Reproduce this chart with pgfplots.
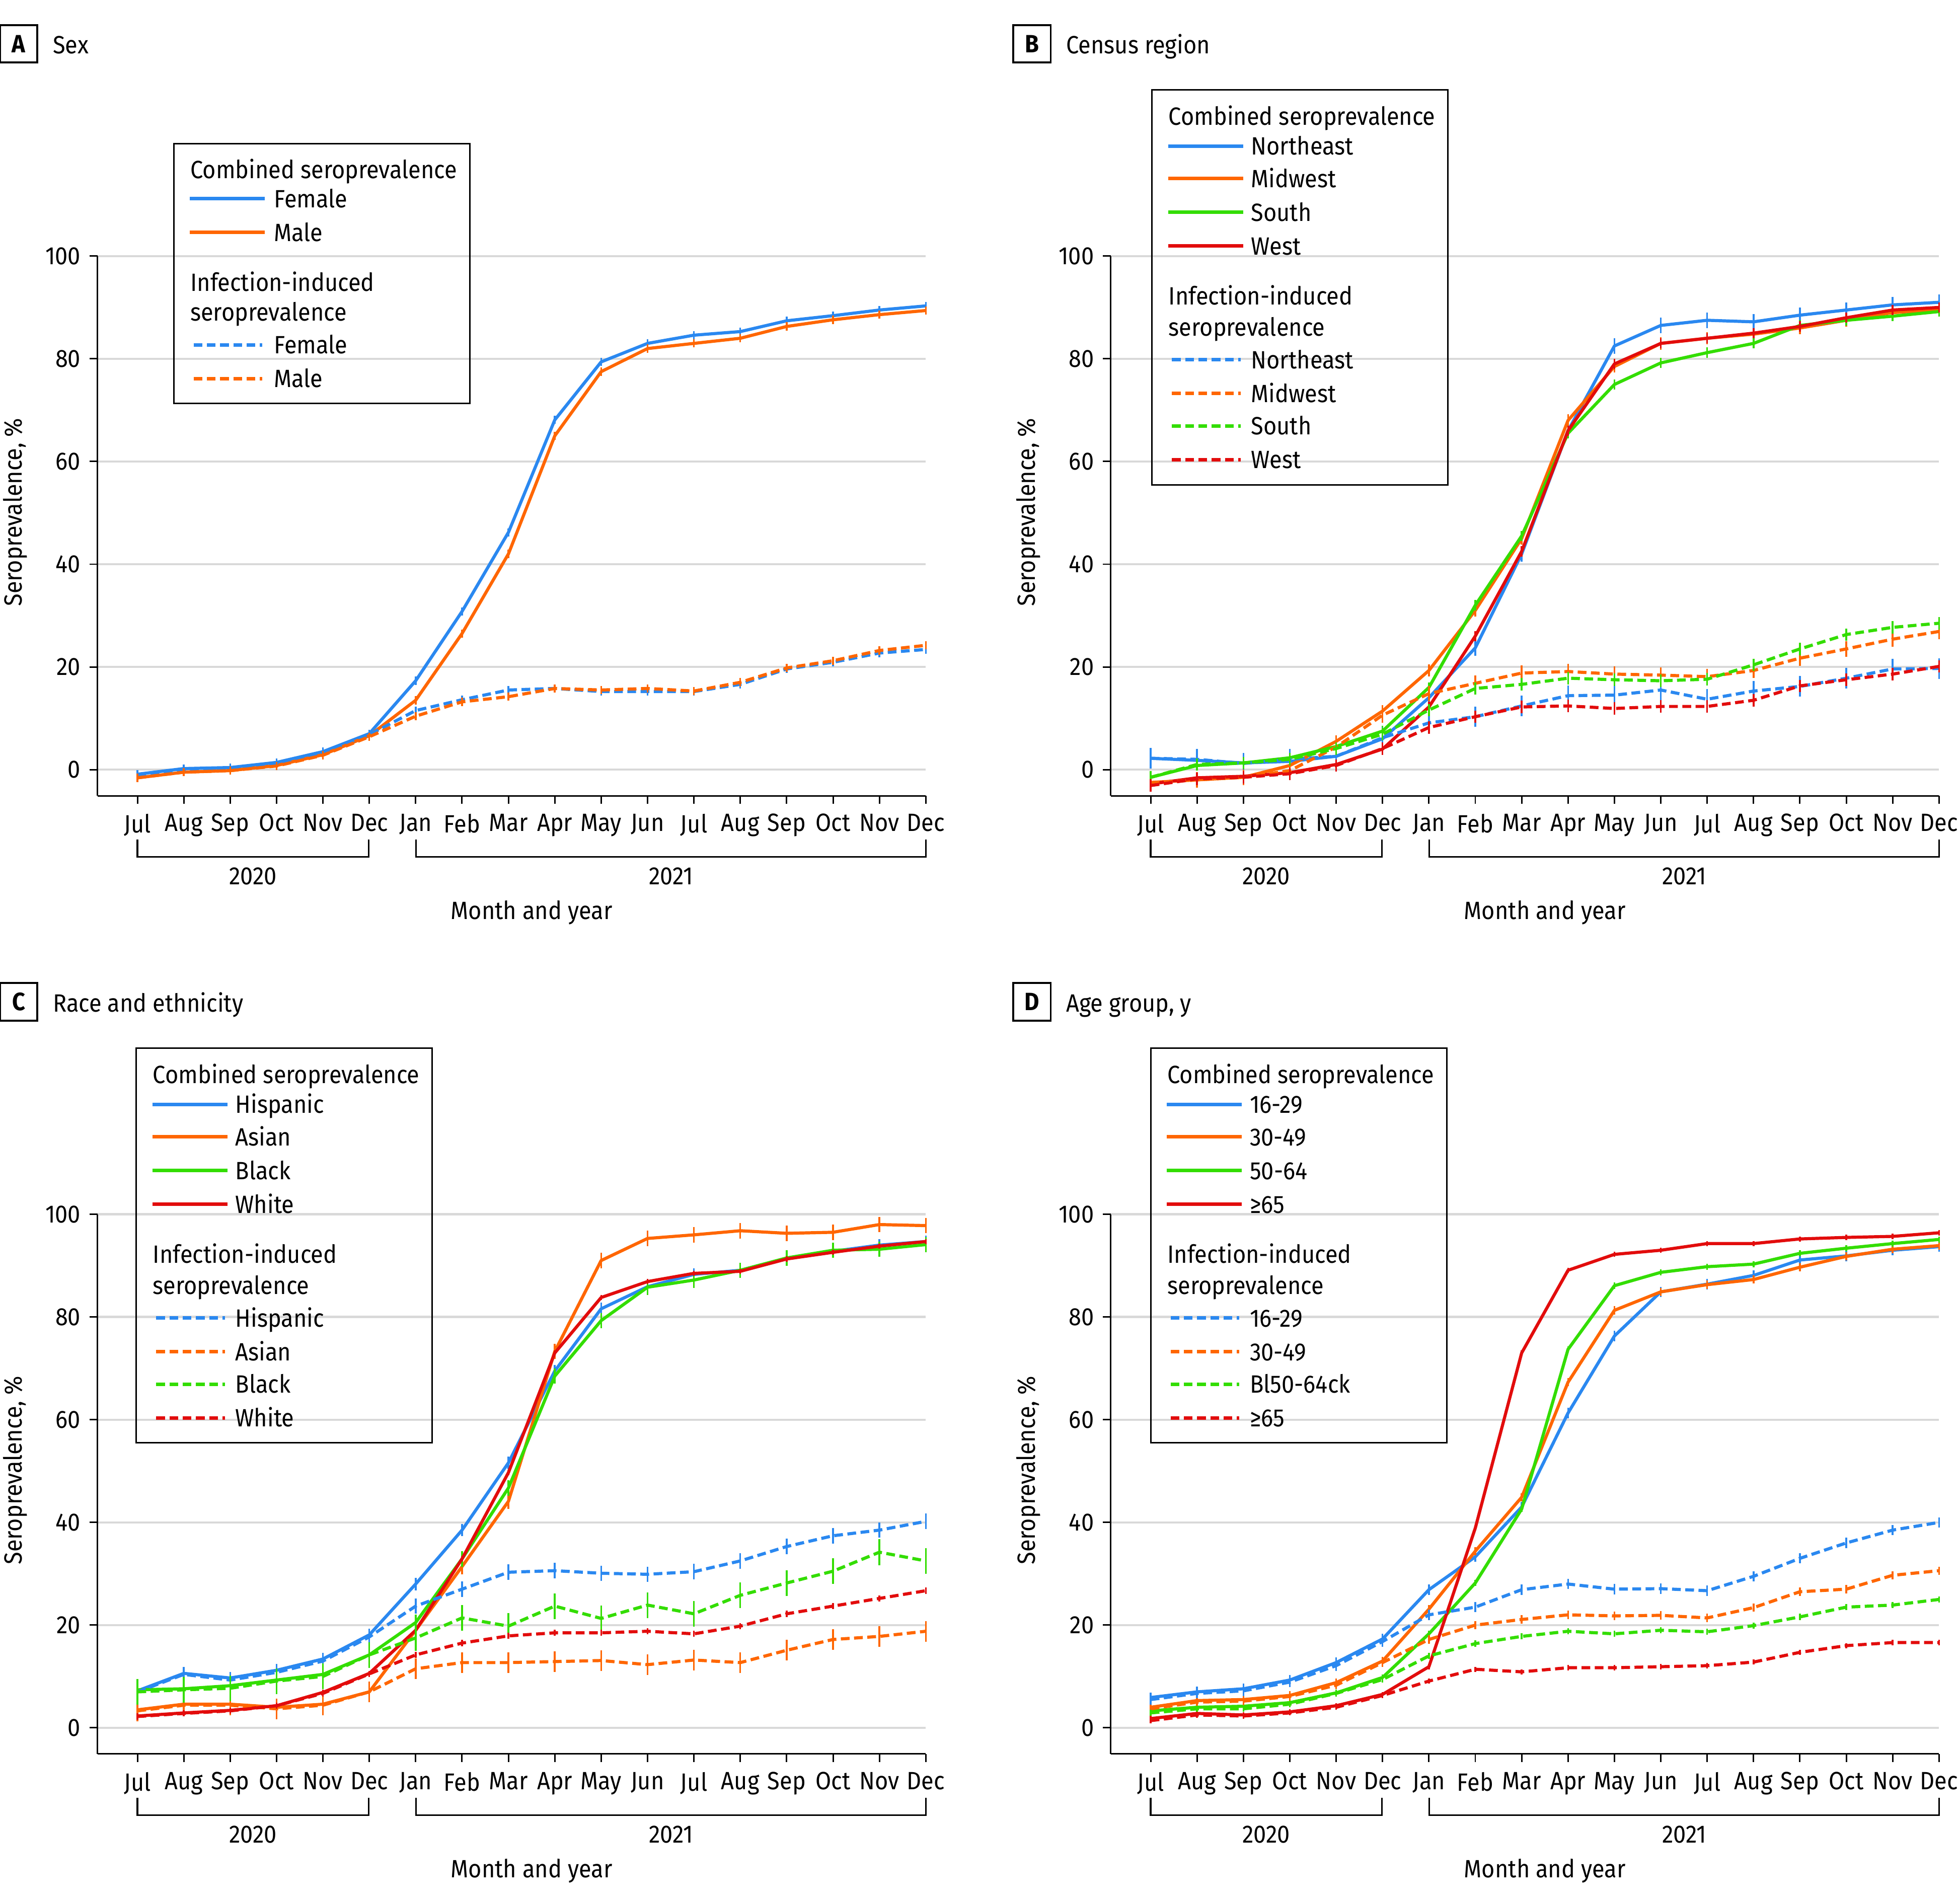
\documentclass[border=0pt]{standalone}
\usepackage{fontspec}
\setmainfont{Fira Sans}[FakeStretch=0.91]
\usepackage{pgfplots}
\pgfplotsset{compat=1.18}
\usepackage{pgfplotstable}

\definecolor{cblue}{RGB}{42,136,240}
\definecolor{corange}{RGB}{255,102,0}
\definecolor{cgreen}{RGB}{51,221,0}
\definecolor{cred}{RGB}{226,12,12}
\definecolor{gridgray}{RGB}{217,217,217}

% month index 0 = Jul 2020 ... 17 = Dec 2021
\pgfplotstableread{
m  cf    cm    if    im
0  -0.9  -1.6  -1.1  -1.6
1  0.2   -0.5  -0.2  -0.5
2  0.4   -0.2  0.3   -0.2
3  1.4   0.8   1.2   0.7
4  3.5   2.9   3.4   2.8
5  7.0   6.6   6.8   6.4
6  17.3  13.5  11.5  10.4
7  30.8  26.5  13.6  13.2
8  46.2  42.0  15.5  14.2
9  68.1  65.0  15.8  15.8
10 79.4  77.5  15.2  15.5
11 83.0  82.0  15.2  15.8
12 84.6  83.0  15.2  15.3
13 85.3  84.0  16.6  17.0
14 87.4  86.3  19.6  19.8
15 88.4  87.6  20.9  21.2
16 89.5  88.6  22.7  23.2
17 90.3  89.4  23.4  24.2
}\tabA

\pgfplotstableread{
m  c1    c2    c3    c4    i1    i2    i3    i4
0  2.2   -2.5  -1.5  -2.8  2.2   -2.6  -1.5  -3.1
1  1.8   -2.0  0.8   -1.6  2.0   -2.0  1.0   -1.8
2  1.3   -1.5  1.3   -1.3  1.2   -1.5  1.3   -1.5
3  1.6   0.8   2.3   -0.6  2.0   -0.2  2.0   -0.8
4  2.6   5.5   4.5   1.0   2.6   4.4   4.1   0.8
5  6.0   11.4  7.5   4.0   6.2   10.6  6.9   4.1
6  14.0  19.3  16.0  12.2  9.1   14.8  11.6  8.2
7  23.7  31.0  32.0  26.0  10.3  16.8  15.8  10.3
8  42.0  45.0  45.5  42.5  12.4  18.8  16.6  12.2
9  66.0  68.0  65.5  66.0  14.4  19.1  17.8  12.4
10 82.5  78.5  75.0  79.0  14.5  18.6  17.5  11.9
11 86.5  83.0  79.2  83.0  15.5  18.4  17.3  12.3
12 87.5  84.0  81.2  84.0  13.7  18.1  17.6  12.3
13 87.2  84.8  83.0  85.0  15.3  19.3  20.4  13.5
14 88.5  86.0  86.5  86.3  16.2  21.7  23.5  16.3
15 89.5  87.5  87.5  88.0  17.8  23.5  26.3  17.5
16 90.5  89.0  88.3  89.5  19.6  25.4  27.7  18.6
17 91.0  89.5  89.2  90.0  19.7  26.9  28.5  20.1
}\tabB

\pgfplotstableread{
m  c1    c2    c3    c4    i1    i2    i3    i4
0  7.2   3.5   7.4   2.3   7.0   3.3   7.0   2.2
1  10.6  4.6   7.6   2.9   10.4  4.4   7.4   2.8
2  9.7   4.6   8.2   3.4   9.3   4.4   7.7   3.3
3  11.2  4.0   9.3   4.3   10.8  3.7   9.1   4.3
4  13.4  4.6   10.4  6.9   13.0  4.4   10.0  6.7
5  18.1  7.0   14.2  10.6  17.7  7.0   14.2  10.5
6  28.0  19.0  20.5  19.0  23.7  11.5  17.5  14.2
7  38.5  31.4  32.9  32.9  27.0  12.7  21.4  16.5
8  51.6  44.1  46.7  49.7  30.3  12.7  19.8  17.9
9  69.5  73.3  68.5  73.0  30.6  12.9  23.7  18.5
10 81.6  91.0  79.3  83.8  30.1  13.1  21.3  18.5
11 85.9  95.3  85.8  86.9  29.9  12.3  23.9  18.8
12 88.3  96.0  87.2  88.5  30.4  13.2  22.2  18.3
13 89.1  96.8  89.1  88.9  32.5  12.7  25.8  19.8
14 91.4  96.3  91.5  91.3  35.3  15.1  28.2  22.2
15 92.8  96.5  93.0  92.6  37.4  17.2  30.5  23.7
16 94.0  98.0  93.2  93.8  38.5  17.8  34.2  25.2
17 94.7  97.8  94.1  94.7  40.2  18.8  32.5  26.7
}\tabC

\pgfplotstableread{
m  c1    c2    c3    c4    i1    i2    i3    i4
0  5.9   4.0   3.3   1.8   5.5   3.7   2.9   1.4
1  7.0   5.3   4.0   2.8   6.7   5.0   3.7   2.5
2  7.6   5.5   4.2   2.5   7.2   5.2   3.7   2.3
3  9.3   6.3   4.9   3.1   8.9   6.1   4.6   2.9
4  12.7  8.8   6.8   4.3   12.1  8.3   6.7   4.0
5  17.3  13.0  9.8   6.5   16.8  12.7  9.4   6.3
6  26.9  23.1  18.3  11.9  22.0  17.2  14.0  9.1
7  33.3  34.4  28.2  38.9  23.5  20.0  16.4  11.4
8  43.0  44.9  42.6  73.0  26.9  21.1  17.8  10.9
9  61.3  67.3  73.7  89.1  28.0  22.0  18.8  11.7
10 76.3  81.3  86.1  92.2  27.0  21.8  18.3  11.7
11 84.9  84.9  88.7  93.0  27.1  21.9  19.0  11.9
12 86.4  86.3  89.8  94.3  26.7  21.4  18.7  12.1
13 88.1  87.3  90.3  94.3  29.5  23.4  19.9  12.8
14 91.1  89.7  92.4  95.2  33.0  26.5  21.6  14.7
15 91.9  91.8  93.4  95.5  36.0  27.0  23.5  16.0
16 93.0  93.2  94.3  95.7  38.5  29.7  23.9  16.6
17 93.7  93.9  95.1  96.4  40.0  30.6  25.0  16.6
}\tabD

\pgfplotsset{
  panel/.style={
    scale only axis, width=331.5pt, height=216pt,
    xmin=-0.862, xmax=17, ymin=-5.1, ymax=100,
    axis x line*=bottom, axis y line*=left,
    axis line style={-, line width=0.6pt},
    xtick={0,...,17},
    xticklabels={Jul,Aug,Sep,Oct,Nov,Dec,Jan,Feb,Mar,Apr,May,Jun,Jul,Aug,Sep,Oct,Nov,Dec},
    ytick={0,20,...,100},
    ymajorgrids, grid style={gridgray, line width=0.9pt},
    tick align=outside, major tick length=3.2pt,
    tick style={black, line width=0.6pt},
    tick label style={font=\fontsize{10}{12}\selectfont},
    xticklabel style={yshift=-0.5pt},
    /pgf/number format/assume math mode=true,
    clip=false,
  },
  ser/.style 2 args={color=#1, line width=1.25pt, mark=none, line join=round,
    error bars/y dir=both, error bars/y fixed=#2, error bars/error mark=none,
    error bars/error bar style={solid, line width=0.7pt}},
  dsh/.style={dash pattern=on 3.5pt off 1.8pt},
}

\tikzset{
  tx/.style={inner sep=0pt, font=\fontsize{10}{12}\selectfont},
  lt/.style={tx, anchor=base west},
  ln/.style={line width=1.4pt},
  dl/.style={line width=1.4pt, dash pattern=on 3.5pt off 1.8pt},
}

% axis decorations, in pixel units of the reference
\newcommand\decor[4]{%
  \begin{scope}[shift={(#1,#2)}]
    \draw[line width=0.8pt] (0,20) rectangle (30,50);
    \node[tx, font=\fontsize{10}{12}\selectfont\bfseries] at (15,35) {#3};
    \node[lt] at (42,43) {#4};
    \draw[line width=0.7pt] (110,672)--(110,686)--(295,686)--(295,672);
    \draw[line width=0.7pt] (333,672)--(333,686)--(741,686)--(741,672);
    \node[tx, anchor=base] at (202.5,708) {2020};
    \node[tx, anchor=base] at (537,708) {2021};
    \node[tx, anchor=base] at (425.5,736) {Month and year};
    \node[tx, rotate=90] at (12,410) {Seroprevalence, \%};
  \end{scope}}

\newcommand\legfour[9]{%
  \begin{scope}[shift={(#1,#2)}]
    \draw[line width=0.6pt] (0,0) rectangle (237,316);
    \node[lt] at (13,28) {Combined seroprevalence};
    \draw[ln, cblue] (13,45)--(73,45);   \node[lt] at (79,52) {#3};
    \draw[ln, corange] (13,71)--(73,71); \node[lt] at (79,78) {#4};
    \draw[ln, cgreen] (13,98)--(73,98);  \node[lt] at (79,105) {#5};
    \draw[ln, cred] (13,125)--(73,125);  \node[lt] at (79,132) {#6};
    \node[lt] at (13,172) {Infection-induced};
    \node[lt] at (13,197) {seroprevalence};
    \draw[dl, cblue] (16,216)--(71,216);   \node[lt] at (79,223) {#7};
    \draw[dl, corange] (16,243)--(71,243); \node[lt] at (79,250) {#8};
    \draw[dl, cgreen] (16,269)--(71,269);  \node[lt] at (79,276) {#9};
    \draw[dl, cred] (16,296)--(71,296);    \node[lt] at (79,303) {#6};
  \end{scope}}

\begin{document}
\begin{tikzpicture}
\path[use as bounding box] (0pt,0pt) rectangle (784pt,-762pt);

% A: Sex
\begin{axis}[panel, at={(39pt,-318.5pt)}, anchor=south west]
\addplot[ser={cblue}{0.8}] table[x=m,y=cf]{\tabA};
\addplot[ser={corange}{0.8}] table[x=m,y=cm]{\tabA};
\addplot[dsh, ser={cblue}{0.8}] table[x=m,y=if]{\tabA};
\addplot[dsh, ser={corange}{0.8}] table[x=m,y=im]{\tabA};
\end{axis}

% B: Census region
\begin{axis}[panel, at={(444.5pt,-318.5pt)}, anchor=south west]
\addplot[ser={cblue}{1.5}] table[x=m,y=c1]{\tabB};
\addplot[ser={corange}{1.2}] table[x=m,y=c2]{\tabB};
\addplot[ser={cgreen}{1.0}] table[x=m,y=c3]{\tabB};
\addplot[ser={cred}{1.0}] table[x=m,y=c4]{\tabB};
\addplot[dsh, ser={cblue}{2.0}] table[x=m,y=i1]{\tabB};
\addplot[dsh, ser={corange}{1.5}] table[x=m,y=i2]{\tabB};
\addplot[dsh, ser={cgreen}{1.2}] table[x=m,y=i3]{\tabB};
\addplot[dsh, ser={cred}{1.2}] table[x=m,y=i4]{\tabB};
\end{axis}

% C: Race and ethnicity
\begin{axis}[panel, at={(39pt,-702pt)}, anchor=south west]
\addplot[ser={cblue}{1.2}] table[x=m,y=c1]{\tabC};
\addplot[ser={corange}{1.5}] table[x=m,y=c2]{\tabC};
\addplot[ser={cgreen}{1.5}] table[x=m,y=c3]{\tabC};
\addplot[ser={cred}{0.5}] table[x=m,y=c4]{\tabC};
\addplot[dsh, ser={cblue}{1.5}] table[x=m,y=i1]{\tabC};
\addplot[dsh, ser={corange}{2.0}] table[x=m,y=i2]{\tabC};
\addplot[dsh, ser={cgreen}{2.5}] table[x=m,y=i3]{\tabC};
\addplot[dsh, ser={cred}{0.6}] table[x=m,y=i4]{\tabC};
\end{axis}

% D: Age group
\begin{axis}[panel, at={(444.5pt,-702pt)}, anchor=south west]
\addplot[ser={cblue}{1.0}] table[x=m,y=c1]{\tabD};
\addplot[ser={corange}{0.8}] table[x=m,y=c2]{\tabD};
\addplot[ser={cgreen}{0.6}] table[x=m,y=c3]{\tabD};
\addplot[ser={cred}{0.5}] table[x=m,y=c4]{\tabD};
\addplot[dsh, ser={cblue}{1.0}] table[x=m,y=i1]{\tabD};
\addplot[dsh, ser={corange}{0.8}] table[x=m,y=i2]{\tabD};
\addplot[dsh, ser={cgreen}{0.6}] table[x=m,y=i3]{\tabD};
\addplot[dsh, ser={cred}{0.5}] table[x=m,y=i4]{\tabD};
\end{axis}

\begin{scope}[x=0.5pt, y=-0.5pt]
  \decor{0}{0}{A}{Sex}
  \decor{811}{0}{B}{Census region}
  \decor{0}{767}{C}{Race and ethnicity}
  \decor{811}{767}{D}{Age group, y}

  % legend A
  \begin{scope}[shift={(139,115)}]
    \draw[line width=0.6pt] (0,0) rectangle (237,208);
    \node[lt] at (13,28) {Combined seroprevalence};
    \draw[ln, cblue] (13,44)--(73,44);   \node[lt] at (80,51) {Female};
    \draw[ln, corange] (13,71)--(73,71); \node[lt] at (80,78) {Male};
    \node[lt] at (13,118) {Infection-induced};
    \node[lt] at (13,142) {seroprevalence};
    \draw[dl, cblue] (16,161)--(71,161);   \node[lt] at (80,168) {Female};
    \draw[dl, corange] (16,188)--(71,188); \node[lt] at (80,195) {Male};
  \end{scope}

  \legfour{922}{72}{Northeast}{Midwest}{South}{West}{Northeast}{Midwest}{South}
  \legfour{109}{839}{Hispanic}{Asian}{Black}{White}{Hispanic}{Asian}{Black}
  \legfour{921}{839}{16-29}{30-49}{50-64}{≥65}{16-29}{30-49}{Bl50-64ck}
\end{scope}

\end{tikzpicture}
\end{document}
